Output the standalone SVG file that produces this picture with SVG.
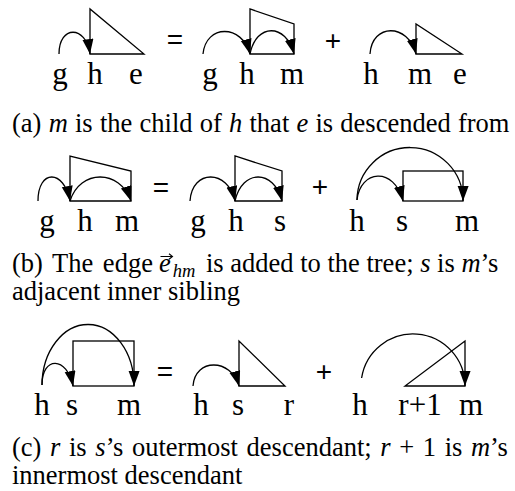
<svg xmlns="http://www.w3.org/2000/svg" width="515" height="491" viewBox="0 0 515 491">
<defs>
<marker id="ah" markerUnits="userSpaceOnUse" markerWidth="16" markerHeight="12" refX="15" refY="5.5" orient="auto" viewBox="0 0 16 12">
<path d="M0,0 L15,5.5 L0,11 z" fill="#000"/>
</marker>
</defs>
<style>
.sh{fill:none;stroke:#000;stroke-width:1.3;stroke-linejoin:miter}
.ar{fill:none;stroke:#000;stroke-width:1.3;marker-end:url(#ah)}
.lb{font-family:"Liberation Serif","DejaVu Serif",serif;font-size:31px;fill:#000;text-anchor:middle}
.op{font-family:"Liberation Sans",sans-serif;font-size:28px;fill:#000;text-anchor:middle}
.cap{font-family:"Liberation Serif","DejaVu Serif",serif;font-size:26.5px;fill:#000}
.it{font-style:italic}
</style>
<rect width="515" height="491" fill="#fff"/>

<!-- Row a -->
<g id="a1">
<path class="sh" d="M90,54 L90,9 L144,54 Z"/>
<text class="lb" x="60" y="84">g</text><text class="lb" x="95" y="84">h</text><text class="lb" x="136" y="84">e</text>
</g>
<text class="op" x="175" y="49">=</text>
<g id="a2">
<path class="sh" d="M250,54 L250,9 L294,24 L294,54 Z"/>
<text class="lb" x="210" y="84">g</text><text class="lb" x="247" y="84">h</text><text class="lb" x="292" y="84">m</text>
</g>
<text class="op" x="333" y="50">+</text>
<g id="a3">
<path class="sh" d="M416,54 L416,24 L462,54 Z"/>
<text class="lb" x="371" y="84">h</text><text class="lb" x="420" y="84">m</text><text class="lb" x="460" y="84">e</text>
</g>
<text class="cap" x="12" y="132" word-spacing="0.6">(a) <tspan class="it">m</tspan> is the child of <tspan class="it">h</tspan> that <tspan class="it">e</tspan> is descended from</text>

<!-- Row b -->
<g id="b1">
<path class="sh" d="M70,201 L70,156 L131,171 L131,201 Z"/>
<text class="lb" x="47" y="231">g</text><text class="lb" x="85" y="231">h</text><text class="lb" x="127" y="231">m</text>
</g>
<text class="op" x="161" y="197">=</text>
<g id="b2">
<path class="sh" d="M235,201 L235,156 L282,171 L282,201 Z"/>
<text class="lb" x="198" y="231">g</text><text class="lb" x="236" y="231">h</text><text class="lb" x="280" y="231">s</text>
</g>
<text class="op" x="320" y="196">+</text>
<g id="b3">
<rect class="sh" x="403" y="171" width="60" height="30"/>
<text class="lb" x="357" y="231">h</text><text class="lb" x="402" y="231">s</text><text class="lb" x="467" y="231">m</text>
</g>
<g id="capb">
<text class="cap" y="272"><tspan x="12" word-spacing="3">(b) The edge</tspan><tspan class="it" x="159">e</tspan><tspan class="it" dx="2" dy="5" font-size="18.5">hm</tspan><tspan x="206" dy="-5">is added to the tree; </tspan><tspan class="it">s</tspan> is <tspan class="it">m</tspan>’s</text>
<path d="M160.5,256.5 H172 M169,253.8 L172.5,256.5 L169,259.2" fill="none" stroke="#000" stroke-width="1.1"/>
<text class="cap" x="12" y="300">adjacent inner sibling</text>
</g>

<!-- Row c -->
<g id="c1">
<rect class="sh" x="73" y="341" width="61" height="45"/>
<text class="lb" x="42" y="415">h</text><text class="lb" x="72" y="415">s</text><text class="lb" x="129" y="415">m</text>
</g>
<text class="op" x="165" y="381">=</text>
<g id="c2">
<path class="sh" d="M239,386 L239,341 L285,386 Z"/>
<text class="lb" x="201" y="415">h</text><text class="lb" x="238" y="415">s</text><text class="lb" x="289" y="415">r</text>
</g>
<text class="op" x="324" y="381">+</text>
<g id="c3">
<path class="sh" d="M465,386 L465,341 L405,386 Z"/>
<text class="lb" x="360" y="415">h</text><text class="lb" x="420" y="415">r+1</text><text class="lb" x="471" y="415">m</text>
</g>
<text class="cap" x="12" y="456" word-spacing="2">(c) <tspan class="it">r</tspan> is <tspan class="it">s</tspan>’s outermost descendant; <tspan class="it">r</tspan> + 1 is <tspan class="it">m</tspan>’s</text>
<text class="cap" x="12" y="484">innermost descendant</text>

<g id="connectors">
<path class="ar" d="M59,54 C59,25 86,25 90,54"/>
<path class="ar" d="M203,54 C206,24 242,24 250,54"/>
<path class="ar" d="M250,54 C256,23 286,23 294,54"/>
<path class="ar" d="M370,54 C372,23 408,23 416,54"/>
<path class="ar" d="M38,201 C38,169 64,169 70,201"/>
<path class="ar" d="M70,201 C80,169 120,169 131,201"/>
<path class="ar" d="M190,201 C192,169 228,169 235,201"/>
<path class="ar" d="M235,201 C242,169 274,169 282,201"/>
<path class="ar" d="M357,200 C360,170 394,166 403,201"/>
<path class="ar" d="M357,200 A53,53 0 0 1 463,201"/>
<path class="ar" d="M42,385 C42,356 67,356 73,386"/>
<path class="ar" d="M42,385 A46,61 0 0 1 134,386"/>
<path class="ar" d="M193,386 C195,358 231,358 239,386"/>
<path class="ar" d="M361.6,378 A52,52 0 0 1 465,386"/>
</g>
</svg>
